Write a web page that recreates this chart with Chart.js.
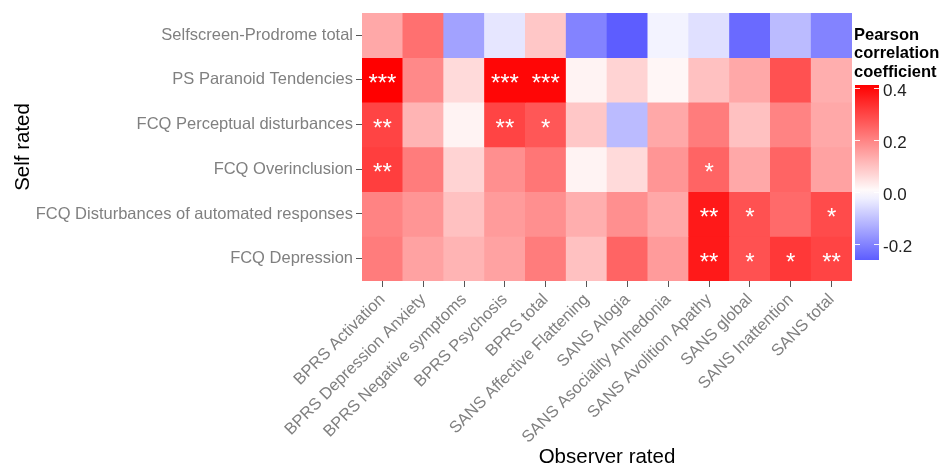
<!DOCTYPE html>
<html>
<head>
<meta charset="utf-8">
<script src="https://cdn.jsdelivr.net/npm/chart.js@4"></script>
<style>
  html, body { margin: 0; padding: 0; background: #fff; }
  #wrap { width: 943px; height: 474px; }
</style>
</head>
<body>
<div id="wrap"><canvas id="heat" width="943" height="474"></canvas></div>
<script>
// columns (observer rated)
const observerLabels = [
    'BPRS Activation', 'BPRS Depression Anxiety', 'BPRS Negative symptoms', 'BPRS Psychosis',
    'BPRS total', 'SANS Affective Flattening', 'SANS Alogia', 'SANS Asociality Anhedonia',
    'SANS Avolition Apathy', 'SANS global', 'SANS Inattention', 'SANS total'
];
// rows (self rated), top to bottom
const selfLabels = [
    'Selfscreen-Prodrome total', 'PS Paranoid Tendencies', 'FCQ Perceptual disturbances',
    'FCQ Overinclusion', 'FCQ Disturbances of automated responses', 'FCQ Depression'
];
// correlation per row
const rProdrome    = [0.14, 0.23, -0.15, -0.04, 0.09, -0.20, -0.26, -0.02, -0.05, -0.24, -0.11, -0.20];
const rParanoid    = [0.41, 0.19, 0.06, 0.40, 0.40, 0.02, 0.07, 0.015, 0.10, 0.14, 0.28, 0.13];
const rPerceptual  = [0.30, 0.12, 0.02, 0.30, 0.27, 0.09, -0.11, 0.14, 0.21, 0.10, 0.20, 0.14];
const rOverinc     = [0.31, 0.21, 0.07, 0.18, 0.22, 0.02, 0.06, 0.17, 0.25, 0.14, 0.25, 0.15];
const rAutomated   = [0.20, 0.17, 0.10, 0.16, 0.18, 0.13, 0.18, 0.14, 0.37, 0.28, 0.24, 0.29];
const rDepression  = [0.21, 0.15, 0.12, 0.15, 0.21, 0.10, 0.25, 0.16, 0.37, 0.28, 0.32, 0.30];
// significance stars per row
const sProdrome    = ['', '', '', '', '', '', '', '', '', '', '', ''];
const sParanoid    = ['***', '', '', '***', '***', '', '', '', '', '', '', ''];
const sPerceptual  = ['**', '', '', '**', '*', '', '', '', '', '', '', ''];
const sOverinc     = ['**', '', '', '', '', '', '', '', '*', '', '', ''];
const sAutomated   = ['', '', '', '', '', '', '', '', '**', '*', '', '*'];
const sDepression  = ['', '', '', '', '', '', '', '', '**', '*', '*', '**'];
// colour bar
const legendTicks = [0.4, 0.2, 0.0, -0.2];

const values = [rProdrome, rParanoid, rPerceptual, rOverinc, rAutomated, rDepression];
const stars = [sProdrome, sParanoid, sPerceptual, sOverinc, sAutomated, sDepression];
const nRows = selfLabels.length;
const maxAbs = 0.41;
const legMin = -0.26, legMax = 0.41;

function fillColor(v) {
    const t = Math.min(1, Math.abs(v) / maxAbs);
    const c = Math.round(255 * (1 - t));
    return v >= 0 ? `rgb(255,${c},${c})` : `rgb(${c},${c},255)`;
}

// row i (from the top) sits at y value nRows-1-i
const datasets = values.map((row, i) => {
    const yv = nRows - 1 - i;
    return {
        data: row.map(() => [yv - 0.5, yv + 0.5]),
        backgroundColor: row.map(fillColor),
        borderWidth: 0,
        barPercentage: 1,
        categoryPercentage: 1,
        grouped: false
    };
});

const FONT = "'Liberation Sans', Arial, sans-serif";

const starPlugin = {
    id: 'stars',
    afterDatasetsDraw(chart) {
        const {ctx, scales: {x, y}} = chart;
        ctx.save();
        ctx.fillStyle = '#fff';
        ctx.font = `24px ${FONT}`;
        ctx.textAlign = 'center';
        ctx.textBaseline = 'alphabetic';
        stars.forEach((row, i) => {
            row.forEach((s, j) => {
                if (!s) return;
                const px = x.getPixelForValue(j);
                const py = y.getPixelForValue(nRows - 1 - i);
                ctx.fillText(s, px, py + 11);
            });
        });
        ctx.restore();
    }
};

const colorbarPlugin = {
    id: 'colorbar',
    afterDraw(chart) {
        const {ctx, chartArea} = chart;
        const left = chartArea.right + 3;
        const w = 24;
        const top = 85, bottom = 260;
        const toY = v => top + (legMax - v) / (legMax - legMin) * (bottom - top);
        ctx.save();
        // title
        ctx.fillStyle = '#000';
        ctx.font = `bold 16.5px ${FONT}`;
        ctx.textAlign = 'left';
        ctx.textBaseline = 'middle';
        ['Pearson', 'correlation', 'coefficient'].forEach((t, i) => ctx.fillText(t, left - 1, 35 + i * 18.5));
        // bar
        const g = ctx.createLinearGradient(0, top, 0, bottom);
        for (let k = 0; k <= 20; k++) {
            const v = legMax - (legMax - legMin) * k / 20;
            g.addColorStop(k / 20, fillColor(v));
        }
        ctx.fillStyle = g;
        ctx.fillRect(left, top, w, bottom - top);
        // ticks + labels
        ctx.strokeStyle = 'rgba(255,255,255,0.9)';
        ctx.lineWidth = 1;
        ctx.fillStyle = '#222';
        ctx.font = `17px ${FONT}`;
        legendTicks.forEach(v => {
            const py = Math.round(toY(v)) + 0.5;
            ctx.beginPath();
            ctx.moveTo(left, py); ctx.lineTo(left + 5, py);
            ctx.moveTo(left + w - 5, py); ctx.lineTo(left + w, py);
            ctx.stroke();
            ctx.fillText(v.toFixed(1), left + w + 4, py + 3);
        });
        ctx.restore();
    }
};

new Chart(document.getElementById('heat'), {
    type: 'bar',
    data: { labels: observerLabels, datasets: datasets },
    options: {
        responsive: false,
        animation: false,
        layout: { padding: { left: 0, right: 91, top: 8, bottom: 0 } },
        plugins: { legend: { display: false }, tooltip: { enabled: false } },
        scales: {
            x: {
                type: 'category',
                offset: true,
                afterFit: s => { s.height = 193; },
                grid: { display: true, drawOnChartArea: false, offset: false, tickLength: 6, color: '#555' },
                border: { display: false },
                ticks: {
                    autoSkip: false, minRotation: 45, maxRotation: 45, padding: 3,
                    color: '#808080', font: { family: FONT, size: 16.5 }
                },
                title: {
                    display: true, text: 'Observer rated', color: '#000',
                    font: { family: FONT, size: 20.5 }, padding: { top: 4, bottom: 4 }
                }
            },
            y: {
                type: 'linear',
                min: -0.5,
                max: nRows - 0.5,
                afterFit: s => { s.width = 362; },
                afterBuildTicks: s => { s.ticks = selfLabels.map((_, i) => ({ value: i })); },
                grid: { display: true, drawOnChartArea: false, tickLength: 6, color: '#555' },
                border: { display: false },
                ticks: {
                    padding: 3, color: '#808080', font: { family: FONT, size: 16.5 },
                    callback: v => selfLabels[nRows - 1 - v]
                },
                title: {
                    display: true, text: 'Self rated', color: '#000',
                    font: { family: FONT, size: 20.5 }, padding: { top: 11, bottom: 0 }
                }
            }
        }
    },
    plugins: [starPlugin, colorbarPlugin]
});
</script>
</body>
</html>
